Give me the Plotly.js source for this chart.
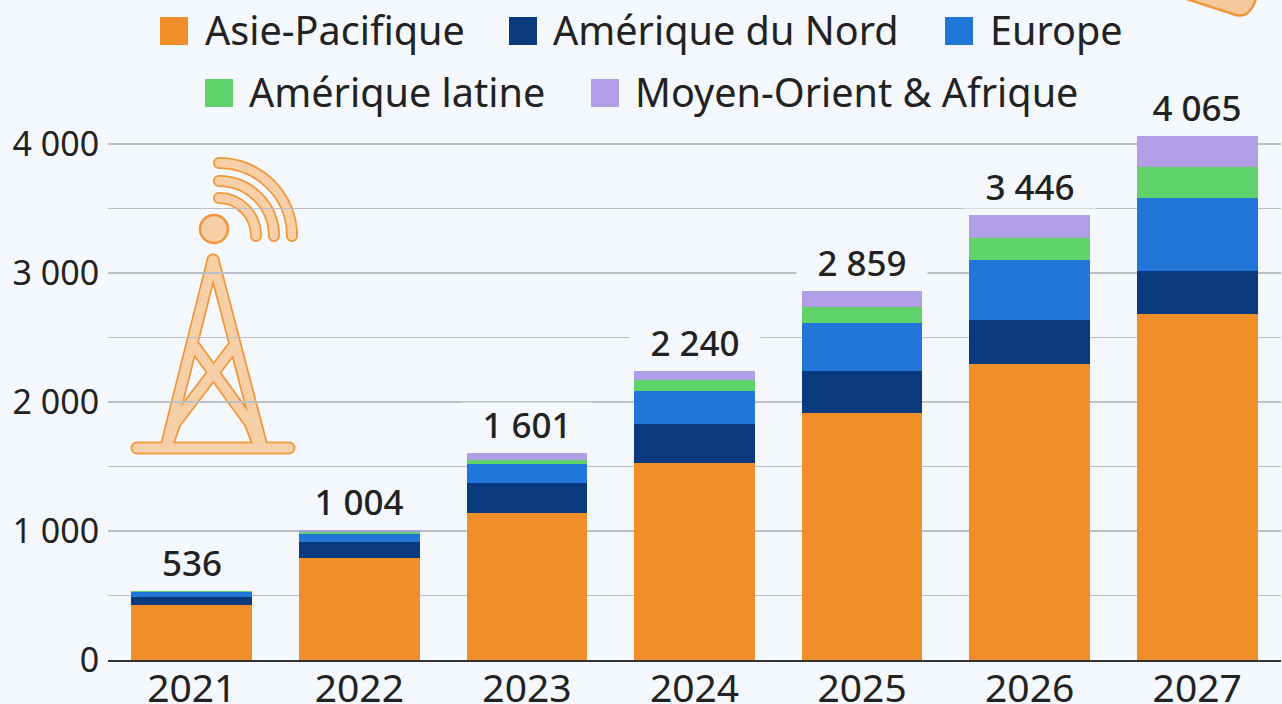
<!DOCTYPE html>
<html>
<head>
<meta charset="utf-8">
<script src="https://cdn.plot.ly/plotly-3.0.1.min.js"></script>
<style>html,body{margin:0;padding:0;background:#f4f8fc;overflow:hidden}</style>
</head>
<body>
<div id="chart" style="width:1282px;height:704px"></div>
<script>
var years = ['2021','2022','2023','2024','2025','2026','2027'];
var asiePacifique = [423, 789, 1140, 1531, 1915, 2298, 2686];
var ameriqueNord = [69, 129, 236, 302, 329, 334, 330];
var europe = [39, 57, 147, 256, 372, 465, 566];
var ameriqueLatine = [2, 15, 31, 78, 124, 178, 241];
var moyenOrient = [3, 14, 47, 73, 119, 171, 242];
var totals = [536, 1004, 1601, 2240, 2859, 3446, 4065];
var totalLabels = ['536', '1 004', '1 601', '2 240', '2 859', '3 446', '4 065'];
var tickVals = [0, 500, 1000, 1500, 2000, 2500, 3000, 3500, 4000];
var tickLabels = ['0', '', '1 000', '', '2 000', '', '3 000', '', '4 000'];
var seriesNames = ['Asie-Pacifique', 'Amérique du Nord', 'Europe', 'Amérique latine', 'Moyen-Orient & Afrique'];
var seriesColors = ['#f08f2a', '#0a3a7e', '#2176d9', '#5fd36a', '#b09fe6'];
var seriesValues = [asiePacifique, ameriqueNord, europe, ameriqueLatine, moyenOrient];

var W = 1282, H = 704, L = 108, R = 1, T = 0, B = 44;
var BG = '#f4f8fc', INK = '#222222', FONT = '"Noto Sans", "Open Sans", sans-serif';
function px(x) { return (x - L) / (W - L - R); }
function py(y) { return 1 - (y - T) / (H - T - B); }

var traces = seriesNames.map(function (n, i) {
  return { type: 'bar', name: n, x: years, y: seriesValues[i], marker: { color: seriesColors[i] }, width: 0.72, hoverinfo: 'x+y+name' };
});

var annotations = years.map(function (yr, i) {
  return { x: i, y: totals[i], xref: 'x', yref: 'y', xanchor: 'center', yanchor: 'bottom', yshift: 6, width: 130, height: 43, align: 'center', valign: 'middle',
    text: totalLabels[i], showarrow: false, font: { family: FONT, size: 35, color: INK, weight: 500 }, bgcolor: BG, borderpad: 0 };
});

var legendPos = [[160, 31, 203], [509, 31, 551], [945, 31, 987.5], [205, 93, 247], [591, 93, 632.5]];
var shapes = [];
seriesNames.forEach(function (n, i) {
  var p = legendPos[i];
  shapes.push({ type: 'rect', xref: 'paper', yref: 'paper', x0: px(p[0]), x1: px(p[0] + 28), y0: py(p[1] - 14), y1: py(p[1] + 14), fillcolor: seriesColors[i], line: { width: 0 } });
  annotations.push({ xref: 'paper', yref: 'paper', x: px(p[2]), y: py(p[1] - 1), xanchor: 'left', yanchor: 'middle', text: n, showarrow: false,
    font: { family: FONT, size: 39.6, color: INK } });
});

function svgUri(w, h, inner) {
  return 'data:image/svg+xml;charset=utf-8,' + encodeURIComponent('<svg xmlns="http://www.w3.org/2000/svg" width="' + w + '" height="' + h + '" viewBox="0 0 ' + w + ' ' + h + '">' + inner + '</svg>');
}
// decorative antenna icon, drawn in its own 180x310 box whose origin is (120,150) on the page
var arcPaths = ['M219,163 A73,73 0 0 1 292,236', 'M219,181 A55,55 0 0 1 274,236', 'M219,198 A37,38 0 0 1 256,236'];
var towerPaths = ['M213,260 L167,443', 'M213,260 L261,443', 'M195,347 L250,423 L258,443', 'M233,347 L175,423 L168,443'];
var basePath = 'M137,448 L289,448';
var icon = '<defs><filter id="b"><feGaussianBlur stdDeviation="0.6"/></filter></defs><g transform="translate(-120,-150)" filter="url(#b)" fill="none" stroke-linecap="round" stroke-linejoin="round">';
arcPaths.forEach(function (d) { icon += '<path d="' + d + '" stroke="#f0973a" stroke-width="12"/>'; });
towerPaths.forEach(function (d) { icon += '<path d="' + d + '" stroke="#f0973a" stroke-width="13"/>'; });
icon += '<path d="' + basePath + '" stroke="#f0973a" stroke-width="13"/>';
icon += '<circle cx="214" cy="229" r="14" fill="#f6cfa6" stroke="#f0973a" stroke-width="2.5"/>';
arcPaths.forEach(function (d) { icon += '<path d="' + d + '" stroke="#f6cfa6" stroke-width="8.5"/>'; });
towerPaths.forEach(function (d) { icon += '<path d="' + d + '" stroke="#f6cfa6" stroke-width="9.5"/>'; });
icon += '<path d="' + basePath + '" stroke="#f6cfa6" stroke-width="9.5"/>';
icon += '</g>';
var corner = '<path d="M15,-8 L86,15 Q100,19 107,-4 L107,-8 Z" fill="#f5c99b" stroke="#f0973a" stroke-width="2.5"/>';

var layout = {
  width: W, height: H, autosize: false,
  margin: { l: L, r: R, t: T, b: B, pad: 0 },
  paper_bgcolor: BG, plot_bgcolor: BG,
  barmode: 'stack', showlegend: false,
  font: { family: FONT, color: INK },
  xaxis: { type: 'category', range: [-0.5, 6.5], showgrid: false, showline: true, linecolor: '#333333', linewidth: 2,
    ticks: '', ticklabelstandoff: -7, tickfont: { family: FONT, size: 39, color: INK }, fixedrange: true },
  yaxis: { range: [0, 660 / 0.129], tickmode: 'array', tickvals: tickVals, ticktext: tickLabels, showgrid: true, gridcolor: '#bcc0c6', gridwidth: 1.5,
    zeroline: false, showline: false, ticks: 'outside', ticklen: 1, tickcolor: 'rgba(0,0,0,0)', tickfont: { family: FONT, size: 34, color: INK }, fixedrange: true },
  annotations: annotations,
  shapes: shapes,
  images: [
    { source: svgUri(180, 310, icon), xref: 'paper', yref: 'paper', x: px(120), y: py(150), sizex: 180 / (W - L - R), sizey: 310 / (H - T - B), xanchor: 'left', yanchor: 'top', sizing: 'stretch', layer: 'below' },
    { source: svgUri(132, 30, corner), xref: 'paper', yref: 'paper', x: px(1150), y: py(0), sizex: 132 / (W - L - R), sizey: 30 / (H - T - B), xanchor: 'left', yanchor: 'top', sizing: 'stretch', layer: 'above' }
  ]
};
Plotly.newPlot('chart', traces, layout, { displayModeBar: false, staticPlot: true });
</script>
</body>
</html>
